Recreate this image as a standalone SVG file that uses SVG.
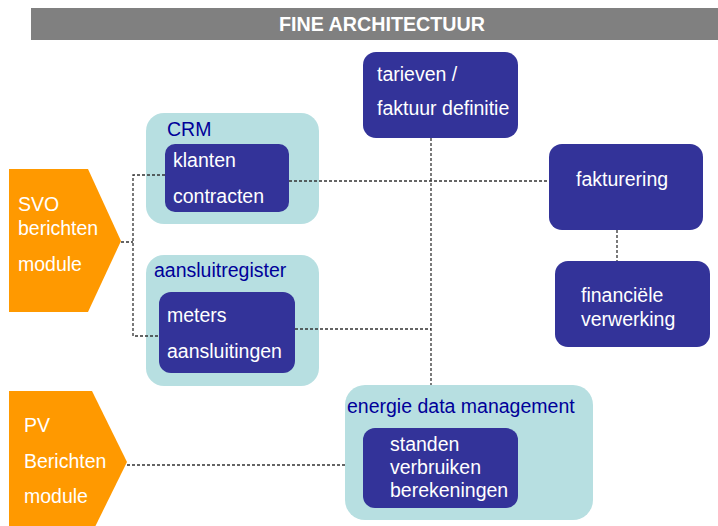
<svg xmlns="http://www.w3.org/2000/svg" width="718" height="526" viewBox="0 0 718 526">
<style>
.t{font-family:"Liberation Sans",Arial,sans-serif;font-size:19.5px;fill:#ffffff}
.lb{font-family:"Liberation Sans",Arial,sans-serif;font-size:19.5px;fill:#000099}
.dk{fill:#333399}
.cy{fill:#b7dfe1}
.or{fill:#ff9900}
.c{stroke:#333333;stroke-width:1.3;stroke-dasharray:3 2;fill:none}
</style>
<rect width="718" height="526" fill="#ffffff"/>
<g id="title">
<rect x="31" y="8" width="687" height="32" fill="#808080"/>
<text x="382" y="31" text-anchor="middle" style="font-family:'Liberation Sans',Arial,sans-serif;font-size:19.7px;font-weight:bold;fill:#ffffff">FINE ARCHITECTUUR</text>
</g>
<g id="crm">
<rect class="cy" x="146" y="113" width="173" height="111" rx="18"/>
<text class="lb" x="167" y="136">CRM</text>
</g>
<g id="aansluitregister">
<rect class="cy" x="146" y="255" width="173" height="131" rx="18"/>
<text class="lb" x="154" y="277">aansluitregister</text>
</g>
<g id="edm">
<rect class="cy" x="345" y="385" width="248" height="135" rx="20"/>
<text class="lb" x="347" y="413">energie data management</text>
</g>
<g id="connectors">
<polyline class="c" points="121,242 133,242"/>
<polyline class="c" points="165,175 133,175 133,336 159,336"/>
<line class="c" x1="289" y1="181" x2="549" y2="181"/>
<line class="c" x1="431" y1="138" x2="431" y2="385"/>
<line class="c" x1="295" y1="329" x2="431" y2="329"/>
<line class="c" x1="617" y1="230" x2="617" y2="261"/>
<line class="c" x1="127" y1="465" x2="345" y2="465"/>
</g>
<g id="svo">
<polygon class="or" points="9,169 88,169 121,241 88,312 9,312"/>
<text class="t" x="18" y="211">SVO</text>
<text class="t" x="18" y="235">berichten</text>
<text class="t" x="18" y="271">module</text>
</g>
<g id="pv">
<polygon class="or" points="9,391 92,391 127,462 92,533 9,533"/>
<text class="t" x="24" y="432">PV</text>
<text class="t" x="24" y="468">Berichten</text>
<text class="t" x="24" y="503">module</text>
</g>
<g id="klanten">
<rect class="dk" x="165" y="144" width="124" height="68" rx="10"/>
<text class="t" x="173" y="167">klanten</text>
<text class="t" x="173" y="203">contracten</text>
</g>
<g id="meters">
<rect class="dk" x="159" y="292" width="136" height="81" rx="12"/>
<text class="t" x="167" y="322">meters</text>
<text class="t" x="167" y="358">aansluitingen</text>
</g>
<g id="tarieven">
<rect class="dk" x="363" y="52" width="155" height="86" rx="13"/>
<text class="t" x="377" y="81">tarieven /</text>
<text class="t" x="377" y="115">faktuur definitie</text>
</g>
<g id="fakturering">
<rect class="dk" x="549" y="144" width="154" height="86" rx="13"/>
<text class="t" x="576" y="186">fakturering</text>
</g>
<g id="financiele">
<rect class="dk" x="555" y="261" width="155" height="86" rx="13"/>
<text class="t" x="581" y="302">financiële</text>
<text class="t" x="581" y="326">verwerking</text>
</g>
<g id="standen">
<rect class="dk" x="363" y="428" width="155" height="80" rx="12"/>
<text class="t" x="390" y="451">standen</text>
<text class="t" x="390" y="474">verbruiken</text>
<text class="t" x="390" y="497">berekeningen</text>
</g>
</svg>
